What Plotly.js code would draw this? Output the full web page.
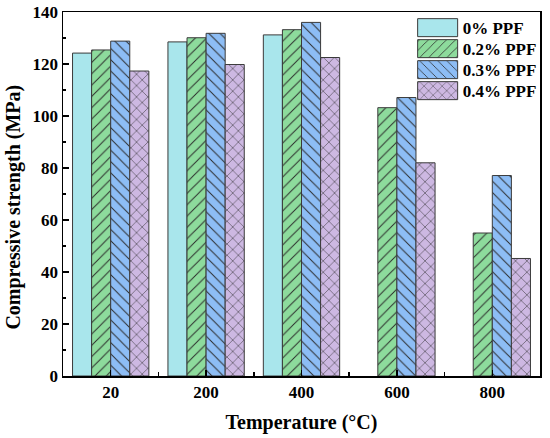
<!DOCTYPE html>
<html><head><meta charset="utf-8">
<script src="https://cdn.plot.ly/plotly-3.0.1.min.js"></script>
<style>html,body{margin:0;padding:0;background:#fff}#chart{width:550px;height:438px}</style>
</head><body><div id="chart"></div>
<script>
const categories = ['20', '200', '400', '600', '800'];
const seriesNames = ['0% PPF', '0.2% PPF', '0.3% PPF', '0.4% PPF'];
const ppf0 = [124.2, 128.5, 131.2, null, null];
const ppf02 = [125.4, 130.1, 133.2, 103.2, 55.0];
const ppf03 = [128.8, 131.8, 136.0, 107.1, 77.1];
const ppf04 = [117.3, 119.8, 122.5, 82.0, 45.2];
const yTicks = [0, 20, 40, 60, 80, 100, 120, 140];

const colors = ['#a9e6ec', '#8ddb9c', '#8dbdf5', '#cdb8e2'];
const shapes = ['', '/', '\\', 'x'];
const values = [ppf0, ppf02, ppf03, ppf04];
const xIdx = categories.map((c, i) => i);
const F = '"Liberation Serif", "Times New Roman", serif';

const traces = values.map((v, k) => ({
  type: 'bar', name: seriesNames[k], x: xIdx, y: v,
  marker: {
    color: colors[k],
    line: {color: '#3a3a3a', width: 1},
    pattern: {shape: shapes[k], fgcolor: '#2a2a2a', bgcolor: colors[k], size: 8, solidity: 0.12}
  }
}));

const layout = {
  width: 550, height: 438,
  margin: {l: 63, r: 8, t: 12, b: 62},
  paper_bgcolor: '#fff', plot_bgcolor: '#fff',
  barmode: 'group', bargap: 0.2, bargroupgap: 0,
  font: {family: F, size: 17, color: '#000', weight: 'bold'},
  xaxis: {
    range: [-0.5, 4.5], tickvals: xIdx, ticktext: categories,
    ticks: 'inside', ticklen: 6, tickwidth: 1.5, tickcolor: '#000',
    showline: true, linewidth: 1.5, linecolor: '#000', mirror: true,
    showgrid: false, zeroline: false,
    tickfont: {family: F, size: 17, weight: 'bold'},
    minor: {tickvals: [0.5, 1.5, 2.5, 3.5], ticks: 'inside', ticklen: 4, tickwidth: 1.5, tickcolor: '#000', showgrid: false},
    title: {text: 'Temperature (°C)', font: {family: F, size: 20, weight: 'bold'}, standoff: 14}
  },
  yaxis: {
    range: [0, 140], tickvals: yTicks,
    ticks: 'inside', ticklen: 6, tickwidth: 1.5, tickcolor: '#000',
    showline: true, linewidth: 1.5, linecolor: '#000', mirror: true,
    showgrid: false, zeroline: false,
    tickfont: {family: F, size: 17, weight: 'bold'},
    minor: {dtick: 10, tick0: 0, ticks: 'inside', ticklen: 3, tickwidth: 1.5, tickcolor: '#000', showgrid: false}
  },
  annotations: [{
    text: 'Compressive strength (MPa)', textangle: -90,
    xref: 'paper', yref: 'paper', x: -0.103, y: 0.465, xanchor: 'center', yanchor: 'middle',
    showarrow: false, font: {family: F, size: 20, weight: 'bold', color: '#000'}
  }],
  legend: {
    x: 0.733, y: 0.997, xanchor: 'left', yanchor: 'top',
    bgcolor: 'rgba(0,0,0,0)', borderwidth: 0, itemwidth: 40,
    tracegroupgap: 0,
    font: {family: F, size: 17, weight: 'bold', color: '#000'}
  },
  showlegend: true
};

Plotly.newPlot('chart', traces, layout, {displayModeBar: false, staticPlot: true}).then(() => {
  document.querySelectorAll('.legend .legendpoints path').forEach(p => {
    p.setAttribute('d', 'M20,9H-20V-9H20Z');
  });
  const items = document.querySelectorAll('.legend .traces');
  let y0 = null;
  items.forEach((g, i) => {
    const m = /translate\(([^,]+),\s*([^)]+)\)/.exec(g.getAttribute('transform') || '');
    if (!m) return;
    const x = parseFloat(m[1]), y = parseFloat(m[2]);
    if (y0 === null) y0 = y - 3;
    g.setAttribute('transform', 'translate(' + x + ',' + (y0 + i * 21) + ')');
  });
});
</script></body></html>
